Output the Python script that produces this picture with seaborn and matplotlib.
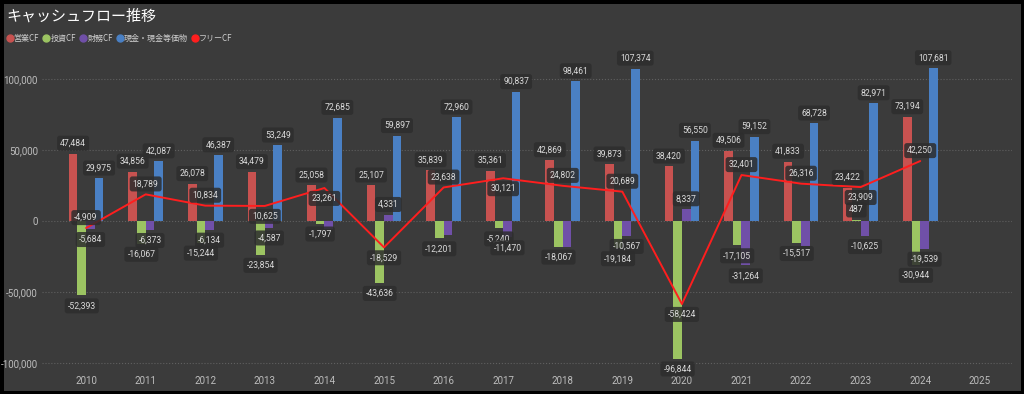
import numpy as np
import pandas as pd
import matplotlib
matplotlib.use('Agg')
import matplotlib.pyplot as plt
import seaborn as sns
from matplotlib.lines import Line2D

years = [str(y) for y in range(2010, 2026)]
operating_cf = [47484, 34856, 26078, 34479, 25058, 25107, 35839, 35361, 42869, 39873,
                38420, 49506, 41833, 23422, 73194, np.nan]
investing_cf = [-52393, -16067, -15244, -23854, -1797, -43636, -12201, -5240, -18067, -19184,
                -96844, -17105, -15517, 487, -30944, np.nan]
financing_cf = [-5684, -6373, -6134, -4587, -5400, 4331, -9900, -11470, -18600, -10567,
                8337, -31264, -17600, -10625, -19539, np.nan]
cash = [29975, 42087, 46387, 53249, 72685, 59897, 72960, 90837, 98461, 107374,
        56550, 59152, 68728, 82971, 107681, np.nan]
free_cf = [-4909, 18789, 10834, 10625, 23261, -18529, 23638, 30121, 24802, 20689,
           -58424, 32401, 26316, 23909, 42250, np.nan]

names = ['営業CF', '投資CF', '財務CF', '現金・現金等価物']
colors = ['#c85250', '#9cc462', '#7050a8', '#4a80c4']
line_color = '#ff1e1e'
bg = '#3b3b3b'

# labels Power BI hid because of overlap (財務CF)
hidden_fin = {'2014', '2016', '2018', '2022'}
# free CF labels that sit under the line point
free_below = {'2013', '2014', '2015', '2017', '2020', '2023'}

rows = []
for name, vals in zip(names, [operating_cf, investing_cf, financing_cf, cash]):
    for y, v in zip(years, vals):
        if not np.isnan(v):
            rows.append({'年': y, '系列': name, '値': v})
df = pd.DataFrame(rows)

sns.set_style('dark')
plt.rcParams['font.family'] = ['Roboto', 'DejaVu Sans']
cjk = ['Noto Sans CJK JP', 'DejaVu Sans']

fig = plt.figure(figsize=(10.24, 3.94), dpi=100, facecolor=bg)
fig.patch.set_edgecolor('black')
fig.patch.set_linewidth(5)
ax = fig.add_axes([42 / 1024, 1 - 372 / 394, (1012 - 42) / 1024, (372 - 58) / 394])
ax.set_facecolor(bg)

sns.barplot(data=df, x='年', y='値', hue='系列', order=years, hue_order=names,
            palette=colors, width=0.58, gap=0, saturation=1, errorbar=None,
            legend=False, linewidth=0, ax=ax)
sns.lineplot(x=np.arange(len(years)), y=free_cf, color=line_color, linewidth=1.4, ax=ax)

box = dict(boxstyle='round,pad=0.35,rounding_size=0.3', fc='#2d2d2d', ec='none', alpha=0.85)

def put_label(x, v, above):
    ax.annotate(f'{v:,.0f}', (x, v), xytext=(0, 7.5 if above else -7.5),
                textcoords='offset points', ha='center', va='center',
                fontsize=6.2, color='#dadada', bbox=box, zorder=5)

for cont, name in zip(ax.containers, names):
    for bar in cont:
        h = bar.get_height()
        if np.isnan(h):
            continue
        x = bar.get_x() + bar.get_width() / 2
        yr = years[int(round(x))]
        if name == '財務CF' and yr in hidden_fin:
            continue
        put_label(x, h, h >= 0)

for i, (yr, v) in enumerate(zip(years, free_cf)):
    if not np.isnan(v):
        put_label(i, v, yr not in free_below)

ax.set_xlim(-0.74, 15.54)
ax.set_ylim(-106300, 114800)
ax.set_yticks([-100000, -50000, 0, 50000, 100000])
ax.set_yticklabels([f'{t:,}' for t in [-100000, -50000, 0, 50000, 100000]])
ax.tick_params(axis='both', length=0, labelsize=7, colors='#bdbdbd')
ax.tick_params(axis='y', pad=3)
ax.tick_params(axis='x', pad=3)
ax.set_xlabel('')
ax.set_ylabel('')
ax.yaxis.grid(True, linestyle=':', color='#606060', linewidth=0.8)
ax.xaxis.grid(False)
ax.set_axisbelow(True)
for s in ax.spines.values():
    s.set_visible(False)

fig.text(6 / 1024, 1 - 16 / 394, 'キャッシュフロー推移', fontsize=10.8, color='white',
         va='center', ha='left', family=cjk)

handles = [Line2D([], [], marker='o', linestyle='', color=c, markersize=5) for c in colors]
handles.append(Line2D([], [], marker='o', linestyle='', color=line_color, markersize=5))
fig.legend(handles, names + ['フリーCF'], loc='center left',
           bbox_to_anchor=(0.0, 1 - 38 / 394), ncol=5, frameon=False,
           handlelength=0.6, handletextpad=0.2, columnspacing=0.6,
           labelcolor='#cfcfcf', prop={'family': cjk, 'size': 5.8})

fig.savefig('out.png', dpi=100, facecolor=bg, edgecolor='black')
